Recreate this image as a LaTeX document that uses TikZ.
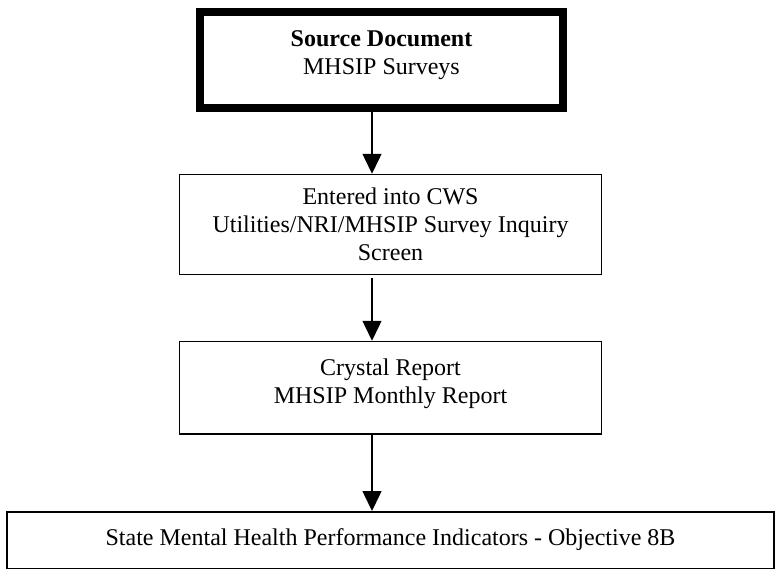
\documentclass[tikz,border=0pt]{standalone}
\usepackage{fontspec}
\setmainfont{Liberation Serif}
\usetikzlibrary{arrows.meta}
\begin{document}
\begin{tikzpicture}[x=1pt,y=-1pt,
  every node/.style={font=\fontsize{24}{28}\selectfont, align=center, inner sep=0pt},
  stepbox/.style={draw=black, line width=1.5pt, rectangle},
  srcbox/.style={draw=black, line width=8pt, rectangle},
  flow/.style={line width=1.5pt, -{Triangle[width=19pt,length=20pt]}}]
  \useasboundingbox (0,0) rectangle (776,570);

  % process boxes
  \node[srcbox, minimum width=363pt, minimum height=96pt, text depth=14pt] (src) at (381.5,60)
    {\textbf{Source Document}\\MHSIP Surveys};
  \node[stepbox, minimum width=422pt, minimum height=100pt] (cws) at (390.5,224.5)
    {Entered into CWS\\Utilities/NRI/MHSIP Survey Inquiry\\Screen};
  \node[stepbox, minimum width=422pt, minimum height=92.5pt, text depth=14pt] (crystal) at (390.5,387.75)
    {Crystal Report\\ MHSIP Monthly Report};
  \node[stepbox, minimum width=767pt, minimum height=56.5pt] (state) at (390.5,540)
    {State Mental Health Performance Indicators - Objective 8B};

  % vertical line of the connectors
  \coordinate (ax) at (372,0);
  \draw[flow] (src.south -| ax) -- (cws.north -| ax);
  \draw[flow, shorten <=3pt] (cws.south -| ax) -- (crystal.north -| ax);
  \draw[flow] (crystal.south -| ax) -- (state.north -| ax);
\end{tikzpicture}
\end{document}
